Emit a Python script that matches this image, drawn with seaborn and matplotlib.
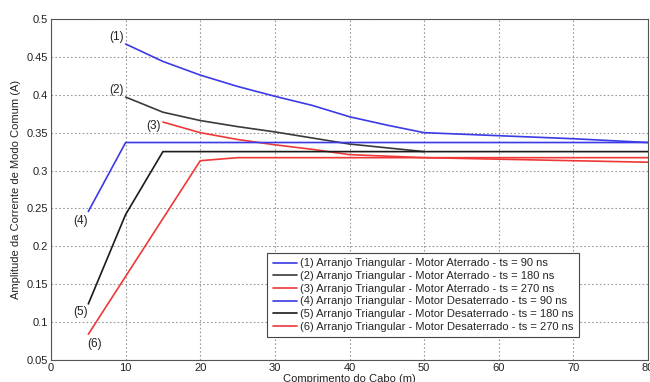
import numpy as np
import pandas as pd
import matplotlib
matplotlib.use("Agg")
import matplotlib.pyplot as plt
import seaborn as sns

# ---- data ----
x1 = [10, 15, 20, 25, 30, 35, 40, 45, 50, 60, 70, 80]
y1 = [0.467, 0.444, 0.426, 0.411, 0.398, 0.386, 0.371, 0.360, 0.350, 0.346, 0.342, 0.337]
x2 = [10, 15, 20, 25, 30, 35, 40, 45, 50]
y2 = [0.397, 0.377, 0.366, 0.358, 0.351, 0.343, 0.335, 0.330, 0.325]
x3 = [15, 20, 25, 30, 35, 40, 50, 60, 70, 80]
y3 = [0.364, 0.350, 0.341, 0.334, 0.328, 0.321, 0.317, 0.315, 0.313, 0.311]
x4 = [5, 10, 80]
y4 = [0.246, 0.337, 0.337]
x5 = [5, 10, 15, 80]
y5 = [0.124, 0.242, 0.325, 0.325]
x6 = [5, 20, 25, 80]
y6 = [0.084, 0.313, 0.317, 0.317]

labels = [
    "(1) Arranjo Triangular - Motor Aterrado - ts = 90 ns",
    "(2) Arranjo Triangular - Motor Aterrado - ts = 180 ns",
    "(3) Arranjo Triangular - Motor Aterrado - ts = 270 ns",
    "(4) Arranjo Triangular - Motor Desaterrado - ts = 90 ns",
    "(5) Arranjo Triangular - Motor Desaterrado - ts = 180 ns",
    "(6) Arranjo Triangular - Motor Desaterrado - ts = 270 ns",
]
tags = ["(1)", "(2)", "(3)", "(4)", "(5)", "(6)"]
tag_x = [8.8, 8.8, 13.7, 3.9, 3.9, 5.9]
tag_y = [0.476, 0.406, 0.359, 0.234, 0.114, 0.071]

xticks = [0, 10, 20, 30, 40, 50, 60, 70, 80]
yticks = [0.05, 0.1, 0.15, 0.2, 0.25, 0.3, 0.35, 0.4, 0.45, 0.5]
ytick_labels = ["0.05", "0.1", "0.15", "0.2", "0.25", "0.3", "0.35", "0.4", "0.45", "0.5"]

colors = ["#3a3ae6", "#3a3a3a", "#ee3838", "#3a3ae6", "#1a1a1a", "#ee3838"]

sns.set_theme(style="white")
plt.rcParams["font.family"] = ["Liberation Sans Narrow", "Liberation Sans", "DejaVu Sans"]

fig = plt.figure(figsize=(6.5, 3.82), dpi=100)
ax = fig.add_axes([51 / 650, 1 - 360 / 382, 597 / 650, 341 / 382])

series = [(x1, y1), (x2, y2), (x3, y3), (x4, y4), (x5, y5), (x6, y6)]
for (xs, ys), lab, c in zip(series, labels, colors):
    sns.lineplot(x=xs, y=ys, ax=ax, color=c, linewidth=1.2, label=lab, sort=False)

for t, tx, ty in zip(tags, tag_x, tag_y):
    ax.text(tx, ty, t, fontsize=8.5, color="#222222", ha="center", va="center")

ax.set_xlim(0, 80)
ax.set_ylim(0.05, 0.5)
ax.set_xticks(xticks)
ax.set_yticks(yticks)
ax.set_yticklabels(ytick_labels)
ax.tick_params(axis="both", direction="in", length=3, labelsize=8, colors="#222222", pad=2)
ax.grid(True, linestyle=(0, (1.5, 2)), color="#999999", linewidth=0.8)
for s in ax.spines.values():
    s.set_color("#555555")
    s.set_linewidth(0.8)

ax.set_xlabel("Comprimento do Cabo (m)", fontsize=8, labelpad=1, color="#222222")
ax.set_ylabel("Amplitude da Corrente de Modo Comum (A)", fontsize=8, labelpad=4, color="#222222")

leg = ax.legend(loc="upper left", bbox_to_anchor=(0.362, 0.314), fontsize=8,
                frameon=True, fancybox=False, edgecolor="#444444", framealpha=1,
                handlelength=2.2, handletextpad=0.3, borderpad=0.5, labelspacing=0.24,
                borderaxespad=0)
leg.get_frame().set_linewidth(0.8)

fig.savefig("out.png", dpi=100)
